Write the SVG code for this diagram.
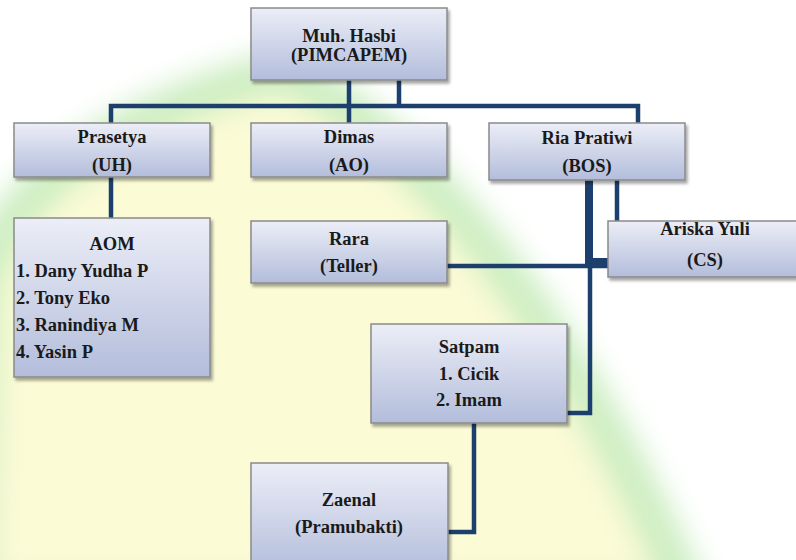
<svg xmlns="http://www.w3.org/2000/svg" width="796" height="560" viewBox="0 0 796 560">
<defs>
<linearGradient id="boxg" x1="0" y1="0" x2="0" y2="1">
<stop offset="0" stop-color="#eceef7"/>
<stop offset="1" stop-color="#b3bddb"/>
</linearGradient>
<filter id="sh" x="-10%" y="-10%" width="130%" height="140%">
<feDropShadow dx="2" dy="3" stdDeviation="1.5" flood-color="#000" flood-opacity="0.35"/>
</filter>
<filter id="blur" x="-20%" y="-20%" width="140%" height="140%">
<feGaussianBlur stdDeviation="14"/>
</filter>
</defs>
<style>
.box{fill:url(#boxg);stroke:#8a8a8a;stroke-width:1.5;filter:url(#sh)}
.t{font-weight:bold;font-size:18.5px;fill:#1a1a1a;text-anchor:middle}
.l{text-anchor:start}
.c{fill:none;stroke:#1d3f6e;stroke-width:4.5;stroke-linejoin:miter}
</style>
<rect width="796" height="560" fill="#ffffff"/>
<g id="watermark" filter="url(#blur)">
<path d="M-30,600 L-20,300 C-10,190 130,110 280,72 C400,120 560,300 690,600 Z" fill="#fbfbd6" stroke="#cdeec2" stroke-width="42"/>
</g>
<g id="connectors">
<path class="c" d="M349,80 V123"/>
<path class="c" d="M399,80 V106"/>
<path class="c" d="M111,123 V106 H638 V123"/>
<path class="c" d="M111,177 V218"/>
<path class="c" d="M589,180 V266" style="stroke-width:8"/>
<path class="c" d="M617,180 V221"/>
<path class="c" d="M447,266 H608"/>
<path class="c" d="M591,262 H608" style="stroke-width:8"/>
<path class="c" d="M590,266 V413 H567"/>
<path class="c" d="M474,423 V532 H448"/>
</g>
<g font-family="Liberation Serif, serif">
<g id="pimcapem"><rect class="box" x="251" y="8" width="196" height="72"/><text class="t" x="349" y="42">Muh. Hasbi</text><text class="t" x="349" y="61">(PIMCAPEM)</text></g>
<g id="prasetya"><rect class="box" x="14" y="123" width="196" height="54"/><text class="t" x="112" y="143">Prasetya</text><text class="t" x="112" y="171">(UH)</text></g>
<g id="dimas"><rect class="box" x="251" y="123" width="196" height="54"/><text class="t" x="349" y="143">Dimas</text><text class="t" x="349" y="171">(AO)</text></g>
<g id="ria"><rect class="box" x="489" y="123" width="196" height="57"/><text class="t" x="587" y="144">Ria Pratiwi</text><text class="t" x="587" y="172">(BOS)</text></g>
<g id="aom"><rect class="box" x="14" y="218" width="196" height="159"/><text class="t" x="112" y="250">AOM</text><text class="t l" x="16" y="277">1. Dany Yudha  P</text><text class="t l" x="16" y="304">2. Tony Eko</text><text class="t l" x="16" y="331">3. Ranindiya M</text><text class="t l" x="16" y="358">4. Yasin P</text></g>
<g id="rara"><rect class="box" x="251" y="221" width="196" height="62"/><text class="t" x="349" y="245">Rara</text><text class="t" x="349" y="272">(Teller)</text></g>
<g id="ariska"><rect class="box" x="608" y="221" width="196" height="56"/><text class="t" x="705" y="235">Ariska Yuli</text><text class="t" x="705" y="266">(CS)</text></g>
<g id="satpam"><rect class="box" x="371" y="324" width="196" height="99"/><text class="t" x="469" y="353">Satpam</text><text class="t" x="469" y="380">1. Cicik</text><text class="t" x="469" y="406">2. Imam</text></g>
<g id="zaenal"><rect class="box" x="251" y="463" width="197" height="110"/><text class="t" x="349" y="506">Zaenal</text><text class="t" x="349" y="533">(Pramubakti)</text></g>
</g>
</svg>
